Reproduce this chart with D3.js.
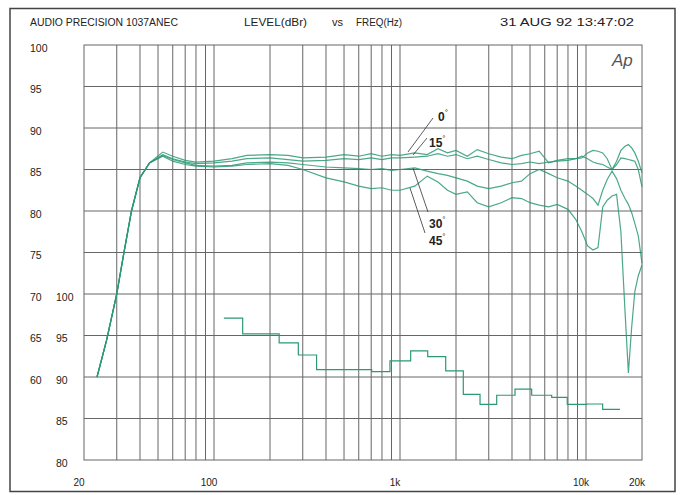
<!DOCTYPE html>
<html>
<head>
<meta charset="utf-8">
<script src="https://cdn.jsdelivr.net/npm/d3@7"></script>
<style>
  body { margin: 0; background: #fff; }
  text { font-family: "Liberation Sans", Arial, sans-serif; fill: #222; }
</style>
</head>
<body>
<script>
// Size of the page
const width = 683, height = 495;

// Frequency points shared by the four response curves (Hz)
const freqs = [23.5, 26.5, 30, 32.5, 36, 40, 45, 53, 60, 70, 80, 100, 125, 150, 200, 250, 300, 400, 500, 600,
  700, 800, 900, 1000, 1200, 1400, 1600, 1800, 2000, 2300, 2600, 3000, 3500, 4000, 4500, 5000, 5600, 6300,
  7000, 8000, 8800, 9500, 10200, 10900, 11600, 12300, 13000, 13800, 14600, 15400, 16200, 16900, 17600,
  18300, 19100, 20000];

// Levels (dBr, left scale) for each angle
const level0 = [60, 64.5, 70, 74.5, 80, 84, 85.8, 87.1, 86.6, 86.1, 85.9, 86.0, 86.3, 86.7, 86.8, 86.7, 86.4,
  86.5, 86.8, 86.6, 86.9, 86.6, 86.8, 86.7, 87.0, 86.8, 87.5, 87.0, 87.3, 86.6, 87.4, 86.9, 86.5, 86.3, 86.7,
  86.9, 87.2, 85.8, 86.1, 86.3, 86.3, 86.4, 87.0, 87.3, 87.2, 87.0, 86.3, 85.0, 86.0, 87.3, 87.8, 88.0, 87.6,
  87.0, 86.0, 84.6];
const level15 = [60, 64.5, 70, 74.5, 80, 84, 85.8, 86.8, 86.3, 85.9, 85.7, 85.8, 86.0, 86.3, 86.4, 86.2, 86.0,
  86.1, 86.3, 86.2, 86.4, 86.2, 86.4, 86.4, 86.5, 86.6, 86.9, 86.6, 86.8, 86.3, 86.6, 86.2, 85.8, 85.6, 85.7,
  85.9, 85.7, 85.9, 86.0, 86.1, 86.3, 86.6, 86.3, 85.9, 85.7, 85.6, 85.3, 85.0, 85.6, 86.4, 86.3, 86.2, 86.1,
  86.0, 85.0, 82.9];
const level30 = [60, 64.5, 70, 74.5, 80, 84, 85.8, 86.7, 86.2, 85.8, 85.5, 85.4, 85.5, 85.8, 85.9, 85.8, 85.6,
  85.3, 85.2, 85.1, 85.0, 85.1, 84.9, 85.0, 85.2, 84.8, 84.5, 84.3, 84.0, 83.6, 83.0, 82.7, 83.0, 83.4, 83.6,
  84.5, 85.0, 84.5, 84.0, 83.6, 83.0, 82.5, 82.0, 81.5, 80.7, 82.5, 83.8, 84.8, 83.9, 82.5, 81.5, 80.8, 79.8,
  78.5, 77.0, 73.7];
const level45 = [60, 64.5, 70, 74.5, 80, 84, 85.8, 86.6, 86.0, 85.6, 85.4, 85.3, 85.4, 85.6, 85.7, 85.5, 85.0,
  84.0, 83.5, 83.0, 82.7, 82.8, 82.5, 82.5, 83.0, 84.2, 83.5, 82.5, 82.0, 82.3, 81.0, 80.5, 81.0, 81.6, 81.5,
  81.0, 80.7, 80.5, 80.8, 80.2, 79.0, 77.5, 75.8, 75.3, 75.6, 80.5, 81.3, 81.8, 82.0, 77.5, 68.0, 60.5, 66.0,
  70.3, 72.2, 73.5];

// Stepped band curve (right scale), each level holds until the next band edge
const bandEdges = [113, 142.6, 224, 284, 356, 704, 883, 1141, 1409, 1761, 2189, 2693, 3310, 4152, 5105, 6540,
  7930, 10090, 12290, 15240];
const bandLevels = [97.1, 95.2, 94.1, 92.65, 90.9, 90.65, 91.95, 93.15, 92.45, 90.75, 87.9, 86.7, 87.8, 88.55,
  87.8, 87.55, 86.7, 86.75, 86.1, 86.1];

// Axis labels
const leftTicks = [100, 95, 90, 85, 80, 75, 70, 65, 60];
const rightTicks = [100, 95, 90, 85, 80];
const freqLabels = [[20, "20"], [100, "100"], [1000, "1k"], [10000, "10k"], [20000, "20k"]];
const angleLabels = ["0", "15", "30", "45"];

// Grid frequencies: 30..90, 100..900, 1k..10k
const gridFreqs = [];
[10, 100, 1000].forEach(d => { for (let k = 1; k <= 9; k++) if (k * d > 20) gridFreqs.push(k * d); });
gridFreqs.push(10000);

const svg = d3.select("body")
  .append("svg")
  .attr("width", width)
  .attr("height", height);

const x = d3.scaleLog().domain([20, 20000]).range([84, 642]);
const y = d3.scaleLinear().domain([50, 100]).range([460, 45]);
const yR = d3.scaleLinear().domain([80, 130]).range([460, 45]);

// Outer frame
svg.append("rect")
  .attr("x", 10).attr("y", 8.5)
  .attr("width", 665).attr("height", 483)
  .attr("fill", "none")
  .attr("stroke", "#444")
  .attr("stroke-width", 1.5);

// Header line
const header = [
  ["AUDIO PRECISION 1037ANEC", 30, 148],
  ["LEVEL(dBr)", 244, 63],
  ["vs", 332, 11],
  ["FREQ(Hz)", 356, 46],
  ["31 AUG 92 13:47:02", 500, 134]
];
svg.append("g").selectAll("text")
  .data(header)
  .enter().append("text")
  .attr("x", d => d[1])
  .attr("y", 26)
  .attr("textLength", d => d[2])
  .attr("lengthAdjust", "spacingAndGlyphs")
  .style("font-size", "10px")
  .text(d => d[0]);

// Grid
const grid = svg.append("g")
  .attr("stroke", "#666")
  .attr("stroke-width", 1);

grid.selectAll("line.v")
  .data(gridFreqs)
  .enter().append("line")
  .attr("x1", d => x(d)).attr("x2", d => x(d))
  .attr("y1", y(100)).attr("y2", y(50));

grid.selectAll("line.h")
  .data(d3.range(55, 100, 5))
  .enter().append("line")
  .attr("x1", x(20)).attr("x2", x(20000))
  .attr("y1", d => y(d)).attr("y2", d => y(d));

grid.append("rect")
  .attr("x", x(20)).attr("y", y(100))
  .attr("width", x(20000) - x(20)).attr("height", y(50) - y(100))
  .attr("fill", "none");

// Left scale labels
svg.append("g").selectAll("text")
  .data(leftTicks)
  .enter().append("text")
  .attr("x", 30)
  .attr("y", d => y(d) + 6.5)
  .style("font-size", "10.5px")
  .text(d => d);

// Right scale labels (printed inside the left margin)
svg.append("g").selectAll("text")
  .data(rightTicks)
  .enter().append("text")
  .attr("x", 56)
  .attr("y", d => yR(d) + 6.5)
  .style("font-size", "10.5px")
  .text(d => d);

// Frequency labels
svg.append("g").selectAll("text")
  .data(freqLabels)
  .enter().append("text")
  .attr("x", d => x(d[0]) - 5)
  .attr("y", 486)
  .attr("text-anchor", "middle")
  .style("font-size", "10px")
  .text(d => d[1]);

// Ap logo
svg.append("text")
  .attr("x", 612).attr("y", 66)
  .style("font-size", "17px")
  .style("font-style", "italic")
  .style("fill", "#555")
  .text("Ap");

// Response curves
const line = d3.line()
  .x(d => x(d[0]))
  .y(d => y(d[1]));

const curves = [level0, level15, level30, level45];
svg.append("g").selectAll("path")
  .data(curves)
  .enter().append("path")
  .attr("d", lv => line(freqs.map((f, i) => [f, lv[i]])))
  .attr("fill", "none")
  .attr("stroke", "#2b9975")
  .attr("stroke-opacity", 0.85)
  .attr("stroke-width", 1.2);

// Stepped band curve on the right scale
const stepLine = d3.line()
  .curve(d3.curveStepAfter)
  .x(d => x(d[0]))
  .y(d => yR(d[1]));

svg.append("path")
  .attr("d", stepLine(bandEdges.map((f, i) => [f, bandLevels[i]])))
  .attr("fill", "none")
  .attr("stroke", "#2b9975")
  .attr("stroke-width", 1.2);

// Angle labels with leader lines
const labelPos = [[438, 121, 433, 118, 408, 152], [429, 147, 427, 138, 413, 155],
  [429, 228, 428, 212, 413, 168], [429, 245, 425, 233, 410, 188]];
const lab = svg.append("g");
labelPos.forEach((p, i) => {
  lab.append("line")
    .attr("x1", p[2]).attr("y1", p[3])
    .attr("x2", p[4]).attr("y2", p[5])
    .attr("stroke", "#333").attr("stroke-width", 0.8);
  const t = lab.append("text")
    .attr("x", p[0]).attr("y", p[1])
    .style("font-size", "12px")
    .style("font-weight", "bold")
    .text(angleLabels[i]);
  t.append("tspan")
    .attr("dy", -6)
    .style("font-size", "8px")
    .style("font-weight", "normal")
    .text("°");
});
</script>
</body>
</html>
